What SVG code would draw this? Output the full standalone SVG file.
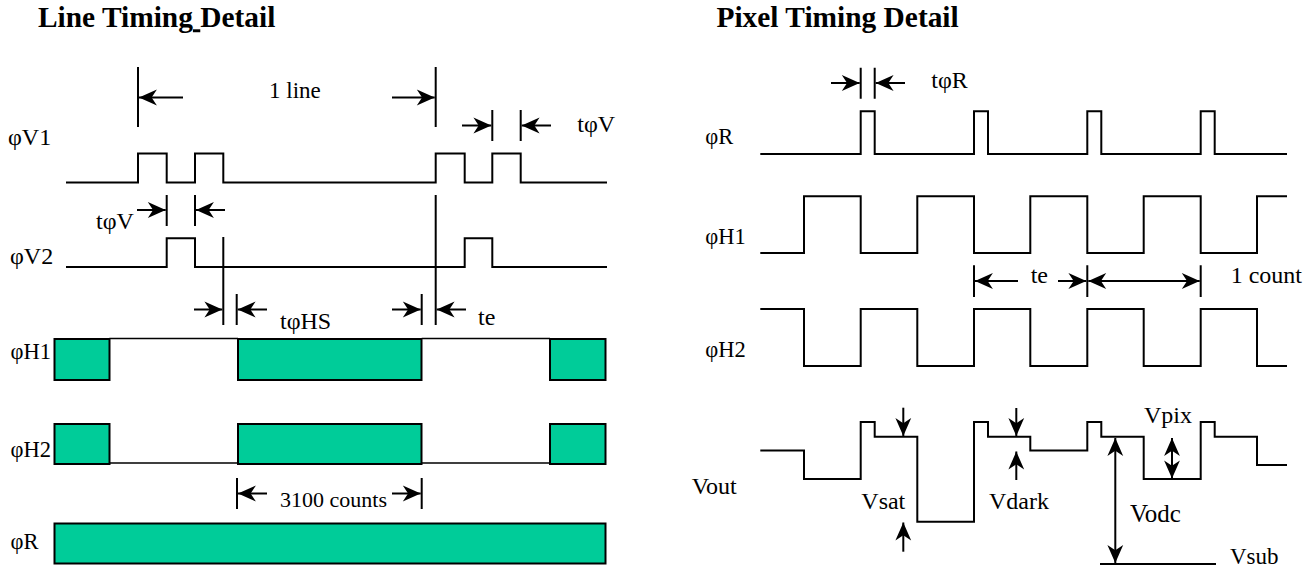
<svg xmlns="http://www.w3.org/2000/svg" width="1310" height="570" viewBox="0 0 1310 570">
<style>
text{font-family:"Liberation Serif","Times New Roman",serif;font-size:24px;fill:#000}
.title{font-weight:bold;font-size:29.4px}
.small{font-size:22px}
.sig{font-size:22.5px}
.w{fill:none;stroke:#000;stroke-width:2;stroke-linejoin:miter}
.b{fill:#00CC99;stroke:#000;stroke-width:2}
.t{fill:none;stroke:#000;stroke-width:1.5}
.tick{stroke:#000;stroke-width:2;fill:none}
.a{stroke:#000;stroke-width:2;fill:none;marker-end:url(#h)}
.d{stroke:#000;stroke-width:2;fill:none;marker-end:url(#h);marker-start:url(#h)}
</style>
<defs>
<marker id="h" markerUnits="userSpaceOnUse" markerWidth="20" markerHeight="18" viewBox="-18 -8 19 16" refX="0" refY="0" orient="auto-start-reverse"><path d="M0,0 L-17,-7.5 L-12,0 L-17,7.5 Z" fill="#000"/></marker>
</defs>
<rect width="1310" height="570" fill="#fff"/>
<g id="title-line"><text class="title" x="38" y="27.3">Line Timing<tspan text-decoration="underline" xml:space="preserve"> </tspan>Detail</text></g>
<g id="title-pixel"><text class="title" x="716.5" y="27.3">Pixel Timing Detail</text></g>

<g id="line-v1"><text x="8" y="144.5">φV1</text><path class="w" d="M66 182.5H138V153.5H166.7V182.5H195V153.5H223.3V182.5H435.7V153.5H464.7V182.5H492.3V153.5H520.7V182.5H607"/></g>
<g id="line-v2"><text x="10" y="263.5">φV2</text><path class="w" d="M66 267H166.7V238.3H195V267H464.7V238.3H492.3V267H607"/></g>
<g id="line-h1"><text class="sig" x="10.5" y="359">φH1</text>
<path class="t" d="M109.3 338.5H238M421.7 338.5H550"/>
<rect class="b" x="54.5" y="339" width="55" height="41"/><rect class="b" x="238" y="339" width="183.5" height="41"/><rect class="b" x="550" y="339" width="55.5" height="41"/></g>
<g id="line-h2"><text class="sig" x="10.5" y="456.7">φH2</text>
<path class="t" d="M109.3 463H238M421.7 463H550"/>
<rect class="b" x="54.5" y="424" width="55" height="40"/><rect class="b" x="238" y="424" width="183.5" height="40"/><rect class="b" x="550" y="424" width="55.5" height="40"/></g>
<g id="line-r"><text class="sig" x="10.5" y="549">φR</text><rect class="b" x="54.5" y="523.5" width="551" height="40"/></g>

<g id="pixel-r"><text class="sig" x="705.3" y="144">φR</text><path class="w" d="M760.3 154H860.7V111.3H874.7V154H974V111.3H988V154H1087.3V111.3H1101.3V154H1200.7V111.3H1214.7V154H1287"/></g>
<g id="pixel-h1"><text class="sig" x="705.3" y="244.3">φH1</text><path class="w" d="M760.3 253H804V196.3H860.7V253H917.3V196.3H974V253H1030.3V196.3H1087.3V253H1143.7V196.3H1200.7V253H1257V196.3H1287"/></g>
<g id="pixel-h2"><text class="sig" x="705.3" y="356.7">φH2</text><path class="w" d="M760.3 309H804V366H860.7V309H917.3V366H974V309H1030.3V366H1087.3V309H1143.7V366H1200.7V309H1257V366H1287"/></g>
<g id="pixel-vout"><text x="691.7" y="493.7">Vout</text><path class="w" d="M760.3 450.5H804V479H860.7V422H874.7V436.7H917.3V521.7H974V422H988V436.7H1030.3V450.5H1087.3V422H1101.3V436.7H1143.7V479H1200.7V422H1214.7V436.7H1257V465H1287"/></g>
<g id="pixel-vsub"><text x="1230" y="564.3" style="font-size:23px">Vsub</text><path class="w" d="M1100 564H1216"/></g>

<g id="connectors">
<path class="tick" d="M138 67V127M435.7 67V127M492.3 110V141M520.7 110V141M166.7 195V226M195 195V226M223.3 237V325M236.7 294V325M421.7 294V325M435.7 195V325M237 478V509M421.7 478V509M860.7 67.7V98.7M874.7 67.7V98.7M974 265.3V297M1087.3 265.3V297M1200.7 265.3V297"/>
<path class="a" d="M183 97.5H139"/><path class="a" d="M392 97.5H434.7"/>
<path class="a" d="M462 125.5H491.3"/><path class="a" d="M551 125.5H521.7"/>
<path class="a" d="M137 210H165.7"/><path class="a" d="M225 210H196"/>
<path class="a" d="M194 309.5H222.3"/><path class="a" d="M267 309.5H237.7"/>
<path class="a" d="M392 309.5H420.7"/><path class="a" d="M466 309.5H436.7"/>
<path class="a" d="M267 493.5H238"/><path class="a" d="M392 493.5H420.7"/>
<path class="a" d="M831 83H859.7"/><path class="a" d="M905 83H875.7"/>
<path class="a" d="M1018 281H975"/><path class="a" d="M1058 281H1086.3"/>
<path class="d" d="M1088.3 281H1199.7"/>
<path class="a" d="M903.3 407.7V436"/><path class="a" d="M903.3 551.7V522.5"/>
<path class="a" d="M1016.3 408V436"/><path class="a" d="M1016.3 480V451.5"/>
<path class="d" d="M1115.3 438V563"/>
<path class="d" d="M1172 438V478.5"/>
</g>

<g id="labels">
<text x="269" y="97.5" style="font-size:23px">1 line</text>
<text x="577.3" y="131.7">tφV</text>
<text x="96" y="229">tφV</text>
<text x="280" y="329">tφHS</text>
<text x="478" y="325">te</text>
<text class="small" x="280" y="507.3">3100 counts</text>
<text x="931.3" y="88">tφR</text>
<text x="1030.7" y="282.7">te</text>
<text x="1230.7" y="282.7">1 count</text>
<text x="861.3" y="509">Vsat</text>
<text x="989" y="509">Vdark</text>
<text x="1144" y="423.3">Vpix</text>
<text x="1130" y="522.3" style="font-size:25px">Vodc</text>
</g>
</svg>
